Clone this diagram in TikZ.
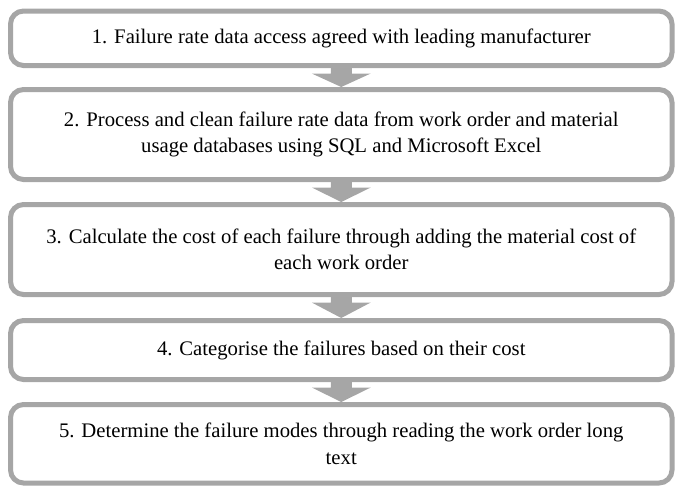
\documentclass[tikz,border=0pt]{standalone}
\usepackage{fontspec}
\setmainfont{Liberation Serif}
\usetikzlibrary{calc}
\definecolor{boxgray}{HTML}{A6A6A6}
\tikzset{
  stepbox/.style={draw=boxgray, line width=5pt, rounded corners=13pt, fill=white,
    minimum width=661.5pt, outer sep=0pt, inner sep=0pt, align=center,
    font=\fontsize{20.7}{26.5}\selectfont, text=black},
  arrowfill/.style={fill=boxgray}
}
\newcommand{\downarrowshape}[2]{%
  \fill[arrowfill] ($(#1.south)+(-10.5,0)$) -- ($(#1.south)+(-10.5,8)$) -- ($(#1.south)+(-29.5,8)$)
    -- ($(#2.north)+(0,-2.5)$) -- ($(#1.south)+(29.5,8)$) -- ($(#1.south)+(10.5,8)$)
    -- ($(#1.south)+(10.5,0)$) -- cycle;}
\begin{document}
\begin{tikzpicture}[x=1pt, y=-1pt]
\useasboundingbox (0,0) rectangle (676,485);
\node[stepbox, minimum height=54.5pt] (b1) at (341.25,38.25)
  {1. Failure rate data access agreed with leading manufacturer};
\node[stepbox, minimum height=90pt] (b2) at (341.25,134.5)
  {2. Process and clean failure rate data from work order and material\\usage databases using SQL and Microsoft Excel};
\node[stepbox, minimum height=90pt] (b3) at (341.25,249.5)
  {3. Calculate the cost of each failure through adding the material cost of\\each work order};
\node[stepbox, minimum height=59pt] (b4) at (341.25,350)
  {4. Categorise the failures based on their cost};
\node[stepbox, minimum height=78.5pt] (b5) at (341.25,443.75)
  {5. Determine the failure modes through reading the work order long\\text};
\downarrowshape{b1}{b2}
\downarrowshape{b2}{b3}
\downarrowshape{b3}{b4}
\downarrowshape{b4}{b5}
\end{tikzpicture}
\end{document}
